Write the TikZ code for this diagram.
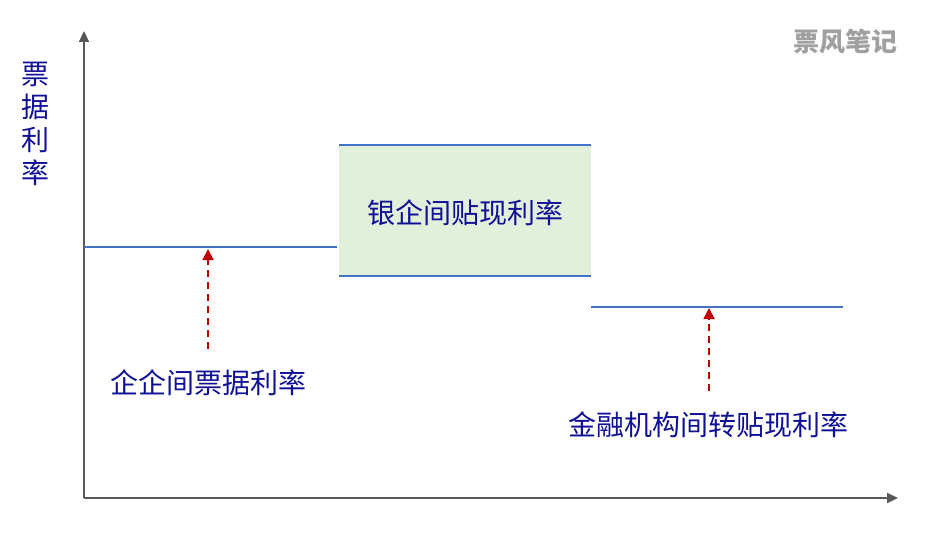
\documentclass[tikz,border=0pt]{standalone}
\usepackage{fontspec}
\newfontfamily\cjk{Noto Sans CJK SC}
\usetikzlibrary{arrows.meta}
\definecolor{axisgray}{RGB}{89,89,89}
\definecolor{lineblue}{RGB}{68,114,196}
\definecolor{boxgreen}{RGB}{226,239,218}
\definecolor{textblue}{RGB}{16,16,150}
\definecolor{arrowred}{RGB}{192,0,0}
\definecolor{wmgray}{RGB}{160,160,160}
\tikzset{
  axisline/.style={draw=axisgray, line width=2.2pt, -{Triangle[length=11pt,width=10pt]}},
  levelline/.style={draw=lineblue, line width=1.8pt},
  uparrow/.style={draw=arrowred, line width=1.8pt, dash pattern=on 7pt off 5pt, -{Triangle[length=11pt,width=11pt]}},
  lbl/.style={font=\cjk\fontsize{28}{32}\selectfont, text=textblue, inner sep=0pt}
}
\begin{document}
\begin{tikzpicture}[x=1pt,y=-1pt]
\useasboundingbox (0,0) rectangle (949,540);
\coordinate (O) at (84,498);
\coordinate (Ytop) at (84,31);
\coordinate (Xend) at (898,498);
\draw[axisline] (O) -- (Ytop);
\draw[axisline] (O) -- (Xend);
% levels
\coordinate (l1a) at (84,247); \coordinate (l1b) at (337,247);
\draw[levelline] (l1a) -- (l1b);
\fill[boxgreen] (339,145) rectangle (591,276);
\coordinate (bta) at (339,145); \coordinate (btb) at (591,145);
\coordinate (bba) at (339,276); \coordinate (bbb) at (591,276);
\draw[levelline] (bta) -- (btb);
\draw[levelline] (bba) -- (bbb);
\coordinate (l3a) at (591,307); \coordinate (l3b) at (843,307);
\draw[levelline] (l3a) -- (l3b);
% labels
\node[lbl] (bank) at (465,213) {银企间贴现利率};
\node[lbl] (corp) at (208,383) {企企间票据利率};
\node[lbl] (inst) at (708,425) {金融机构间转贴现利率};
\node[lbl, align=center, font=\cjk\fontsize{28}{33}\selectfont] (ylab) at (35,124) {票\\据\\利\\率};
\node[font=\cjk\bfseries\fontsize{26}{30}\selectfont, text=wmgray, inner sep=0pt] (wm) at (845,42) {票风笔记};
% arrows
\coordinate (a1s) at (208,349); \coordinate (a1e) at (208,249);
\draw[uparrow] (a1s) -- (a1e);
\coordinate (a2s) at (709,391); \coordinate (a2e) at (709,308);
\draw[uparrow] (a2s) -- (a2e);
\end{tikzpicture}
\end{document}
